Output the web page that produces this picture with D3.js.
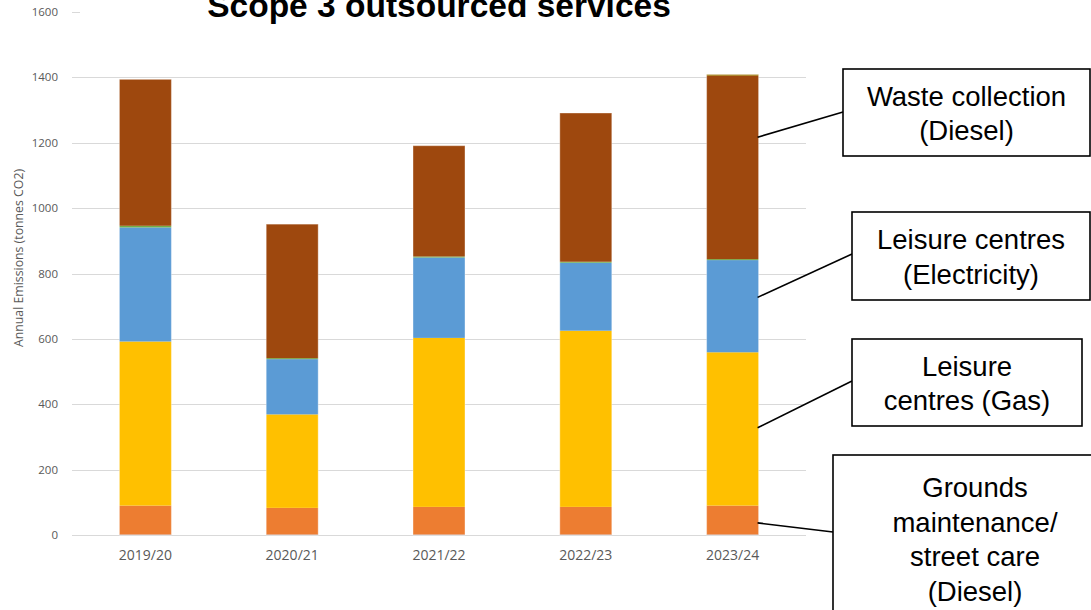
<!DOCTYPE html>
<html>
<head>
<meta charset="utf-8">
<script src="https://cdn.jsdelivr.net/npm/d3@7"></script>
<style>
  body { margin: 0; background: #fff; }
  svg { display: block; }
</style>
</head>
<body>
<svg width="1091" height="610"></svg>
<script>
// chart data (tonnes CO2)
var years = ["2019/20", "2020/21", "2021/22", "2022/23", "2023/24"];
var baseSeries = [1, 1, 1, 1, 1];
var groundsDiesel = [89, 82, 85, 85, 89];
var leisureGas = [502, 286, 517, 539, 469];
var leisureElec = [349, 169, 246, 208, 282];
var otherSmall = [5, 3, 3, 3, 3];
var wasteDiesel = [448, 410, 339, 455, 561];
var topSmall = [0, 0, 0, 0, 4];
var yTicks = [0, 200, 400, 600, 800, 1000, 1200, 1400, 1600];

var keys = ["base", "grounds", "gas", "elec", "other", "waste", "top"];
var colors = ["#4472C4", "#ED7D31", "#FFC000", "#5B9BD5", "#70AD47", "#9E480E", "#997300"];

var rows = years.map(function(yr, i) {
    return {
        year: yr,
        base: baseSeries[i],
        grounds: groundsDiesel[i],
        gas: leisureGas[i],
        elec: leisureElec[i],
        other: otherSmall[i],
        waste: wasteDiesel[i],
        top: topSmall[i]
    };
});

var svg = d3.select("svg"),
    margin = {top: 12, left: 72, right: 285, bottom: 75},
    width = svg.attr("width") - margin.left - margin.right,
    height = svg.attr("height") - margin.top - margin.bottom;

var x = d3.scaleBand().domain(years).range([0, width]).paddingInner(0.646).paddingOuter(0.323),
    y = d3.scaleLinear().domain([0, 1600]).range([height, 0]),
    z = d3.scaleOrdinal().domain(keys).range(colors);

var g = svg.append("g")
    .attr("transform", "translate(" + margin.left + "," + margin.top + ")");

// gridlines
g.append("g")
    .selectAll("line")
    .data(yTicks)
    .enter().append("line")
    .attr("x1", 0)
    .attr("x2", width)
    .attr("y1", function(d) { return Math.round(y(d)) + 0.5; })
    .attr("y2", function(d) { return Math.round(y(d)) + 0.5; })
    .attr("stroke", "#d9d9d9")
    .attr("stroke-width", 1);

// y tick labels
g.append("g")
    .selectAll("text")
    .data(yTicks)
    .enter().append("text")
    .attr("x", -14)
    .attr("y", function(d) { return y(d); })
    .attr("dy", "0.35em")
    .attr("text-anchor", "end")
    .style("font", "11.5px 'Open Sans', sans-serif")
    .style("fill", "#595959")
    .text(function(d) { return d; });

// stacked bars
var stack = d3.stack().keys(keys);
var layer = g.selectAll(".layer")
    .data(stack(rows))
    .enter().append("g")
    .attr("class", "layer")
    .attr("fill", function(d) { return z(d.key); });

layer.selectAll("rect")
    .data(function(d) { return d; })
    .enter().append("rect")
    .attr("x", function(d) { return x(d.data.year); })
    .attr("width", x.bandwidth())
    .attr("y", function(d) { return y(d[1]); })
    .attr("height", function(d) { return y(d[0]) - y(d[1]); });

// faint light outline round each bar
function total(d) { return d.base + d.grounds + d.gas + d.elec + d.other + d.waste + d.top; }
g.append("g")
    .selectAll("rect")
    .data(rows)
    .enter().append("rect")
    .attr("x", function(d) { return x(d.year); })
    .attr("width", x.bandwidth())
    .attr("y", function(d) { return y(total(d)); })
    .attr("height", function(d) { return y(0) - y(total(d)); })
    .attr("fill", "none")
    .attr("stroke", "#ffffff")
    .attr("stroke-opacity", 0.35)
    .attr("stroke-width", 1);

// x labels
g.append("g")
    .selectAll("text")
    .data(years)
    .enter().append("text")
    .attr("x", function(d) { return x(d) + x.bandwidth() / 2; })
    .attr("y", height + 25)
    .attr("text-anchor", "middle")
    .style("font", "14px 'Open Sans', sans-serif")
    .style("fill", "#595959")
    .text(function(d) { return d; });

// y axis title
svg.append("text")
    .attr("transform", "translate(23,258) rotate(-90)")
    .attr("text-anchor", "middle")
    .style("font", "12.3px 'Open Sans', sans-serif")
    .style("fill", "#595959")
    .text("Annual Emissions (tonnes CO2)");

// title sits on a white box that hides the top gridline
svg.append("rect")
    .attr("x", 80)
    .attr("y", 0)
    .attr("width", 740)
    .attr("height", 28)
    .attr("fill", "#fff");
svg.append("text")
    .attr("x", 439)
    .attr("y", 17)
    .attr("text-anchor", "middle")
    .style("font", "bold 33.5px 'Liberation Sans', Arial, sans-serif")
    .style("fill", "#000")
    .text("Scope 3 outsourced services");

// callout boxes
var notes = [
    {lines: ["Waste collection", "(Diesel)"], at: 1217, box: [843, 69, 247, 87], end: [843, 112]},
    {lines: ["Leisure centres", "(Electricity)"], at: 727, box: [852, 212, 238, 88], end: [852, 254]},
    {lines: ["Leisure", "centres (Gas)"], at: 328, box: [852, 339, 230, 87], end: [852, 381]},
    {lines: ["Grounds", "maintenance/", "street care", "(Diesel)"], at: 37, box: [833, 455, 290, 170], end: [833, 532]}
];
var lastBar = years[years.length - 1];
var anchorX = margin.left + x(lastBar) + x.bandwidth();

notes.forEach(function(n) {
    svg.append("line")
        .attr("x1", anchorX - 1)
        .attr("y1", margin.top + y(n.at))
        .attr("x2", n.end[0])
        .attr("y2", n.end[1])
        .attr("stroke", "#000")
        .attr("stroke-width", 1.6);
    svg.append("rect")
        .attr("x", n.box[0])
        .attr("y", n.box[1])
        .attr("width", n.box[2])
        .attr("height", n.box[3])
        .attr("fill", "#fff")
        .attr("stroke", "#000")
        .attr("stroke-width", 1.6);
    var cx = n.lines.length > 2 ? 975 : n.box[0] + n.box[2] / 2;
    var firstBase = n.lines.length > 2 ? 497 : n.box[1] + n.box[3] / 2 - 17 * (n.lines.length - 1) + 10;
    n.lines.forEach(function(t, i) {
        svg.append("text")
            .attr("x", cx)
            .attr("y", firstBase + i * 34.5)
            .attr("text-anchor", "middle")
            .style("font", "27.5px 'Liberation Sans', Arial, sans-serif")
            .style("fill", "#000")
            .text(t);
    });
});
</script>
</body>
</html>
